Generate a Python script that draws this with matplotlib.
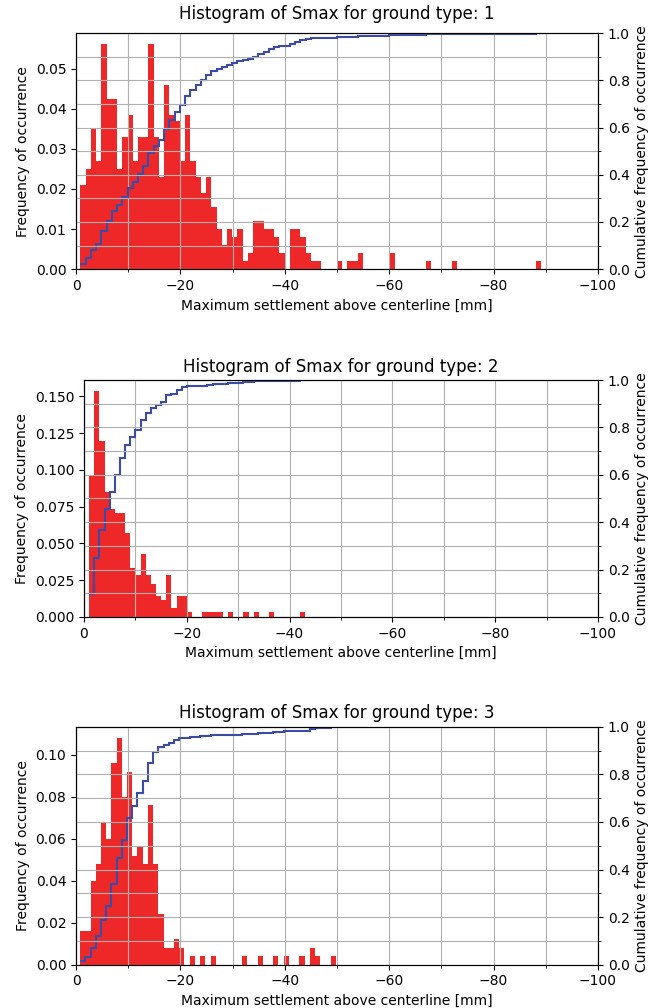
import numpy as np
import matplotlib
matplotlib.use("Agg")
import matplotlib.pyplot as plt
from matplotlib.ticker import MultipleLocator

# ground types shown, one panel each
ground_types = [1, 2, 3]

# first bin edge and bin width of each histogram [mm of settlement, magnitude]
bin_start = [0.84, 1.03, 0.77]
bin_width = [1.003, 1.0, 1.0]

# relative frequency per 1 mm bin, starting at the bin nearest 0
freq_type1 = [0.021, 0.025, 0.035, 0.027, 0.056, 0.0425, 0.0425, 0.025, 0.033, 0.0385,
              0.027, 0.033, 0.033, 0.056, 0.033, 0.023, 0.046, 0.0385, 0.037, 0.027,
              0.0385, 0.027, 0.023, 0.019, 0.023, 0.0155, 0.010, 0.006, 0.010, 0.008,
              0.010, 0.002, 0.004, 0.012, 0.012, 0.010, 0.010, 0.008, 0.004, 0.0,
              0.010, 0.010, 0.008, 0.004, 0.002, 0.002, 0.0, 0.0, 0.0, 0.002,
              0.0, 0.002, 0.002, 0.004, 0.0, 0.0, 0.0, 0.0, 0.0, 0.004,
              0.0, 0.0, 0.0, 0.0, 0.0, 0.0, 0.002, 0.0, 0.0, 0.0,
              0.0, 0.002, 0.0, 0.0, 0.0, 0.0, 0.0, 0.0, 0.0, 0.0,
              0.0, 0.0, 0.0, 0.0, 0.0, 0.0, 0.0, 0.002]
freq_type2 = [0.0964, 0.1534, 0.1193, 0.085, 0.0736, 0.0709, 0.0709, 0.0573, 0.0334, 0.0284,
              0.043, 0.0284, 0.0225, 0.0141, 0.0118, 0.0284, 0.0061, 0.0141, 0.0141, 0.003,
              0.0, 0.0, 0.003, 0.003, 0.003, 0.003, 0.0, 0.003, 0.0, 0.0,
              0.003, 0.0, 0.003, 0.0, 0.0, 0.003, 0.0, 0.0, 0.0, 0.0,
              0.0, 0.003]
freq_type3 = [0.016, 0.016, 0.040, 0.048, 0.068, 0.060, 0.096, 0.108, 0.080, 0.092,
              0.052, 0.056, 0.048, 0.076, 0.048, 0.024, 0.008, 0.008, 0.012, 0.008,
              0.0, 0.004, 0.0, 0.004, 0.0, 0.004, 0.0, 0.0, 0.0, 0.0,
              0.0, 0.004, 0.0, 0.0, 0.004, 0.0, 0.0, 0.004, 0.0, 0.004,
              0.0, 0.0, 0.004, 0.0, 0.008, 0.004, 0.0, 0.0, 0.004]
freqs = [freq_type1, freq_type2, freq_type3]

# axes boxes [left, bottom, width, height] in figure fractions
boxes = [[0.117, 0.733, 0.803, 0.234],
         [0.129, 0.388, 0.791, 0.235],
         [0.117, 0.043, 0.803, 0.236]]
title_pads = [10.5, 6, 6]

bar_color = "#ee2828"
line_color = "#3c4ca6"
grid_color = "#b0b0b0"

fig = plt.figure(figsize=(6.5, 10.08), dpi=100)

for gt, freq, start, width, box, pad in zip(ground_types, freqs, bin_start,
                                            bin_width, boxes, title_pads):
    freq = np.array(freq)
    n = len(freq)
    # settlements are negative, bins run from near 0 downwards
    edges = -(start + width * np.arange(n + 1))
    centers = 0.5 * (edges[:-1] + edges[1:])

    ax = fig.add_axes(box)
    ax.hist(centers, bins=edges[::-1], weights=freq, color=bar_color)
    ax.set_xlim(0, -100)
    ax.xaxis.set_major_locator(MultipleLocator(20))
    ax.xaxis.set_minor_locator(MultipleLocator(10))
    # vertical grid drawn over the bars
    ax.set_axisbelow(False)
    ax.grid(True, axis="x", which="both", color=grid_color, linewidth=0.8)
    ax.set_xlabel("Maximum settlement above centerline [mm]")
    ax.set_ylabel("Frequency of occurrence")
    ax.set_title(f"Histogram of Smax for ground type: {gt}", fontsize=12, pad=pad)

    # cumulative frequency on twin axis
    ax2 = ax.twinx()
    cum = np.cumsum(freq) / freq.sum()
    ax2.stairs(cum, edges, baseline=None, color=line_color, linewidth=1.5)
    ax2.set_ylim(0, 1)
    ax2.yaxis.set_major_locator(MultipleLocator(0.2))
    ax2.yaxis.set_minor_locator(MultipleLocator(0.1))
    ax2.set_ylabel("Cumulative frequency of occurrence")
    ax2.grid(True, axis="y", which="both", color=grid_color, linewidth=0.8)
    ax.set_xlim(0, -100)

fig.savefig("out.png", dpi=100)
